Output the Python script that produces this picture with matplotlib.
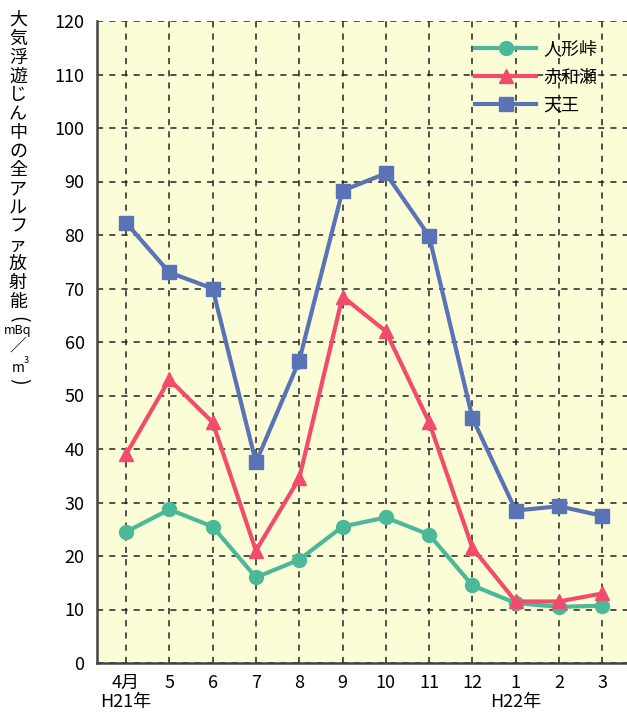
import matplotlib.pyplot as plt
from matplotlib.lines import Line2D

plt.rcParams['font.family'] = ['Noto Sans CJK JP', 'DejaVu Sans']

months = ['4月\nH21年', '5', '6', '7', '8', '9', '10', '11', '12', '1\nH22年', '2', '3']
ningyo = [24.5, 28.7, 25.5, 16.0, 19.3, 25.5, 27.2, 24.0, 14.5, 11.2, 10.5, 10.7]
akawase = [39.0, 53.0, 45.0, 21.0, 34.5, 68.5, 62.0, 45.0, 21.5, 11.5, 11.5, 13.0]
tenno = [82.3, 73.0, 70.0, 37.5, 56.5, 88.3, 91.5, 79.8, 45.8, 28.5, 29.3, 27.5]

green = '#4bb898'
red = '#f24c6c'
blue = '#5a72b6'

fig = plt.figure(figsize=(6.27, 7.18), dpi=100)
ax = fig.add_axes([97 / 627, 55 / 718, 530 / 627, 642 / 718])
ax.set_facecolor('#fafdd6')

x = list(range(len(months)))
ax.plot(x, ningyo, color=green, lw=3, marker='o', ms=10, zorder=3)
ax.plot(x, akawase, color=red, lw=3, marker='^', ms=10, zorder=3)
ax.plot(x, tenno, color=blue, lw=3, marker='s', ms=9.5, zorder=4)

ax.set_xlim(-0.67, 11.57)
ax.set_ylim(0, 120)
ax.set_yticks(range(0, 121, 10))
ax.set_xticks(x)
ax.set_xticklabels(months, fontsize=13, linespacing=1.05)
ax.tick_params(axis='y', labelsize=13, length=0, pad=9)
ax.tick_params(axis='x', length=0, pad=8)
ax.grid(True, color='#222222', ls=(0, (4, 4)), lw=1.1)
for s in ['top', 'right']:
    ax.spines[s].set_visible(False)
for s in ['left', 'bottom']:
    ax.spines[s].set_color('#444444')
    ax.spines[s].set_linewidth(1.8)

handles = [
    Line2D([], [], color=green, lw=3, marker='o', ms=10),
    Line2D([], [], color=red, lw=3, marker='^', ms=10),
    Line2D([], [], color=blue, lw=3, marker='s', ms=9.5),
]
leg = ax.legend(handles, ['人形峠', '赤和瀬', '天王'], loc='upper right',
                bbox_to_anchor=(0.975, 0.995), frameon=False, fontsize=13,
                handlelength=3.4, handletextpad=0.4, labelspacing=0.55)

# vertical y-axis label (tategaki)
chars = list('大気浮遊じん中の全アルファ放射能')
y0 = 20
xc = 18 / 627
for i, c in enumerate(chars):
    fig.text(xc, 1 - (y0 + i * 18.8) / 718, c, fontsize=13,
             ha='center', va='center')
yb = y0 + len(chars) * 18.8  # just below 能
fig.text(xc, 1 - (yb - 2) / 718, '(', fontsize=14, rotation=-90,
         ha='center', va='center')
fig.text(xc, 1 - (yb + 10) / 718, 'mBq', fontsize=9, ha='center', va='center')
fig.text(xc, 1 - (yb + 25) / 718, '／', fontsize=12, ha='center', va='center')
fig.text(xc, 1 - (yb + 47) / 718, 'm', fontsize=10, ha='center', va='center')
fig.text(26 / 627, 1 - (yb + 40) / 718, '3', fontsize=6.5, ha='center', va='center')
fig.text(xc, 1 - (yb + 61) / 718, ')', fontsize=14, rotation=-90,
         ha='center', va='center')

fig.savefig('out.png', dpi=100)
